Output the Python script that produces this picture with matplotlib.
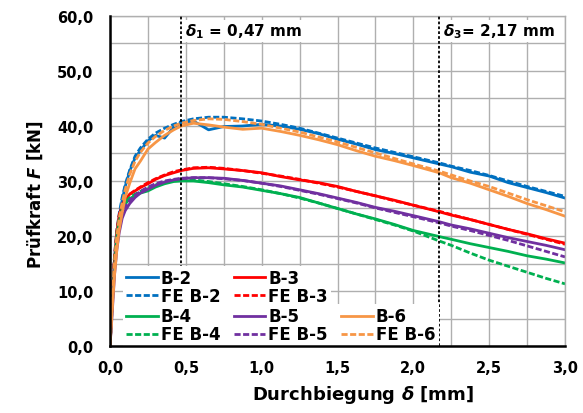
import matplotlib
matplotlib.use('Agg')
import matplotlib.pyplot as plt
from matplotlib.ticker import MultipleLocator, FuncFormatter

#
# font setup: wide bold sans, bold italic symbols
#
plt.rcParams['font.family'] = 'DejaVu Sans'
plt.rcParams['font.weight'] = 'bold'
plt.rcParams['mathtext.fontset'] = 'custom'
plt.rcParams['mathtext.rm'] = 'DejaVu Sans:bold'
plt.rcParams['mathtext.it'] = 'DejaVu Sans:italic:bold'
plt.rcParams['mathtext.bf'] = 'DejaVu Sans:bold'

#
# data
#
d = [0, 0.01, 0.02, 0.03, 0.045, 0.06, 0.08, 0.1, 0.13, 0.165, 0.2, 0.25, 0.3, 0.36,
     0.42, 0.47, 0.55, 0.65, 0.75, 0.875, 1.0, 1.125, 1.25, 1.375, 1.5, 1.625, 1.75,
     1.875, 2.0, 2.17, 2.25, 2.375, 2.5, 2.625, 2.75, 2.875, 3.0]

b2    = [0, 5.5, 11.5, 16, 20.5, 23.5, 26.5, 29.0, 31.8, 34.2, 35.5, 37.3, 38.3, 37.8,
         39.8, 40.6, 40.9, 39.3, 39.9, 40.0, 40.3, 40.0, 39.4, 38.6, 37.6, 36.7, 35.7,
         35.0, 34.2, 33.1, 32.6, 31.6, 30.9, 29.7, 28.8, 27.9, 26.9]
fe_b2 = [0, 6, 12, 16.5, 21, 24, 27, 29.3, 32.0, 34.5, 36.0, 37.6, 38.7, 39.6,
         40.3, 40.8, 41.3, 41.6, 41.6, 41.3, 40.9, 40.3, 39.6, 38.7, 37.8, 36.9, 36.0,
         35.2, 34.4, 33.3, 32.7, 31.9, 31.0, 30.0, 29.0, 28.1, 27.2]
b3    = [0, 5.5, 11, 15.5, 20.5, 23.5, 25.6, 26.7, 27.6, 28.2, 28.8, 29.5, 30.3, 31.0,
         31.5, 31.9, 32.3, 32.4, 32.2, 31.9, 31.5, 30.8, 30.2, 29.7, 29.0, 28.1, 27.3,
         26.5, 25.6, 24.4, 23.8, 23.0, 22.1, 21.2, 20.4, 19.5, 18.7]
fe_b3 = [0, 6, 12, 16.5, 21, 23.8, 25.5, 26.6, 27.6, 28.3, 28.9, 29.7, 30.4, 31.1,
         31.7, 32.0, 32.4, 32.5, 32.3, 31.9, 31.4, 30.9, 30.3, 29.6, 28.9, 28.1, 27.3,
         26.4, 25.6, 24.5, 23.9, 23.0, 22.1, 21.2, 20.3, 19.4, 18.5]
b4    = [0, 5, 10, 14.5, 19.5, 22.5, 24.9, 25.8, 26.8, 27.3, 27.8, 28.2, 28.9, 29.5,
         29.9, 30.0, 30.0, 29.7, 29.3, 28.9, 28.3, 27.7, 27.0, 26.0, 25.0, 24.0, 23.1,
         22.1, 21.0, 19.9, 19.4, 18.6, 17.9, 17.2, 16.4, 15.8, 15.1]
fe_b4 = [0, 5.5, 11, 15.5, 20.5, 23.2, 25.1, 26.1, 27.0, 27.6, 28.1, 28.7, 29.3, 29.8,
         30.1, 30.2, 30.2, 29.9, 29.5, 29.0, 28.4, 27.7, 26.9, 26.0, 25.0, 24.0, 23.0,
         22.0, 20.9, 19.1, 18.3, 16.9, 15.6, 14.5, 13.4, 12.3, 11.3]
b5    = [0, 4, 8.5, 13, 17.5, 20.5, 23.2, 24.6, 25.9, 27.0, 27.8, 28.5, 29.2, 29.8,
         30.2, 30.4, 30.6, 30.6, 30.5, 30.1, 29.6, 29.1, 28.4, 27.7, 26.9, 26.1, 25.2,
         24.5, 23.7, 22.6, 22.0, 21.3, 20.5, 19.7, 19.0, 18.3, 17.5]
fe_b5 = [0, 5, 10, 14.5, 19, 21.8, 24.0, 25.3, 26.5, 27.4, 28.1, 28.9, 29.5, 30.0,
         30.3, 30.5, 30.6, 30.6, 30.4, 30.1, 29.6, 29.0, 28.3, 27.6, 26.8, 26.0, 25.1,
         24.3, 23.5, 22.4, 21.8, 21.0, 20.1, 19.2, 18.2, 17.2, 16.2]
b6    = [0, 4.5, 9, 13, 17.5, 21, 24.2, 27, 29.6, 32.2, 33.6, 35.8, 37.0, 38.3,
         39.3, 40.0, 40.5, 40.2, 39.8, 39.4, 39.6, 39.0, 38.3, 37.5, 36.6, 35.5, 34.5,
         33.7, 32.8, 31.5, 30.6, 29.6, 28.4, 27.2, 25.9, 24.8, 23.6]
fe_b6 = [0, 5.5, 11, 15.5, 20, 23, 26, 28.4, 31.2, 33.6, 35.2, 36.9, 38.1, 39.2,
         40.0, 40.5, 41.0, 41.3, 41.2, 40.8, 40.3, 39.6, 38.9, 38.0, 37.1, 36.1, 35.1,
         34.1, 33.1, 31.8, 31.1, 30.0, 29.0, 27.8, 26.6, 25.5, 24.4]

delta_1 = 0.47
delta_3 = 2.17

series = [('B-2', b2, '#0070C0', '-'), ('FE B-2', fe_b2, '#0070C0', '--'),
          ('B-3', b3, '#FF0000', '-'), ('FE B-3', fe_b3, '#FF0000', '--'),
          ('B-4', b4, '#00B050', '-'), ('FE B-4', fe_b4, '#00B050', '--'),
          ('B-5', b5, '#7030A0', '-'), ('FE B-5', fe_b5, '#7030A0', '--'),
          ('B-6', b6, '#F79646', '-'), ('FE B-6', fe_b6, '#F79646', '--')]

#
# figure
#
fig = plt.figure(figsize=(5.83, 4.14), dpi=100)
ax = fig.add_axes([0.1887, 0.1618, 0.7805, 0.7972])

lines = {}
for name, vals, col, ls in series:
    if ls == '--':
        ln, = ax.plot(d, vals, color=col, lw=2.0, dashes=(2.2, 0.9), label=name)
    else:
        ln, = ax.plot(d, vals, color=col, lw=2.0, label=name)
    lines[name] = ln

ax.axvline(delta_1, color='black', lw=1.3, ls=(0, (1.5, 1.2)), zorder=5)
ax.axvline(delta_3, color='black', lw=1.3, ls=(0, (1.5, 1.2)), zorder=5)

ax.text(delta_1 + 0.025, 57.3, r'$\delta_1$ = 0,47 mm', fontsize=11, va='center', ha='left',
        bbox=dict(facecolor='white', edgecolor='none', pad=1.0), zorder=6)
ax.text(delta_3 + 0.025, 57.3, r'$\delta_3$= 2,17 mm', fontsize=11, va='center', ha='left',
        bbox=dict(facecolor='white', edgecolor='none', pad=1.0), zorder=6)

#
# axes
#
ax.set_xlim(0, 3.0)
ax.set_ylim(0, 60)
ax.xaxis.set_major_locator(MultipleLocator(0.5))
ax.xaxis.set_minor_locator(MultipleLocator(0.25))
ax.yaxis.set_major_locator(MultipleLocator(10))
ax.yaxis.set_minor_locator(MultipleLocator(5))
fmt = FuncFormatter(lambda v, p: ('%.1f' % v).replace('.', ','))
ax.xaxis.set_major_formatter(fmt)
ax.yaxis.set_major_formatter(fmt)
ax.grid(True, which='both', color='#AFAFAF', lw=1.0, zorder=0)
ax.set_axisbelow(True)
ax.tick_params(which='both', length=0, labelsize=10.5)
ax.tick_params(axis='y', pad=12)
ax.tick_params(axis='x', pad=10)
for s in ['top', 'right']:
    ax.spines[s].set_color('#AFAFAF')
    ax.spines[s].set_linewidth(1.0)
for s in ['left', 'bottom']:
    ax.spines[s].set_color('black')
    ax.spines[s].set_linewidth(1.8)
    ax.spines[s].set_zorder(9)

fig.text(0.060, 0.530, r'Prüfkraft $F$ [kN]', rotation=90, ha='center', va='center', fontsize=12)
fig.text(0.623, 0.046, r'Durchbiegung $\delta$ [mm]', ha='center', va='center', fontsize=13)

#
# legends (upper two rows only two columns wide)
#
leg_kw = dict(frameon=True, fancybox=False, edgecolor='none', facecolor='white', framealpha=1.0,
              fontsize=12, handlelength=1.9, handletextpad=0.18, columnspacing=0.8,
              labelspacing=0.0, borderpad=0.2, borderaxespad=0.0)
top_names = ['B-2', 'FE B-2', 'B-3', 'FE B-3']
low_names = ['B-4', 'FE B-4', 'B-5', 'FE B-5', 'B-6', 'FE B-6']
leg1 = ax.legend([lines[n] for n in top_names], top_names, ncol=2, loc='lower left',
                 bbox_to_anchor=(0.028, 0.114), **leg_kw)
ax.add_artist(leg1)
leg2 = ax.legend([lines[n] for n in low_names], low_names, ncol=3, loc='lower left',
                 bbox_to_anchor=(0.028, -0.002), **leg_kw)
leg1.set_zorder(8)
leg2.set_zorder(8)

fig.savefig('out.png', dpi=100)
